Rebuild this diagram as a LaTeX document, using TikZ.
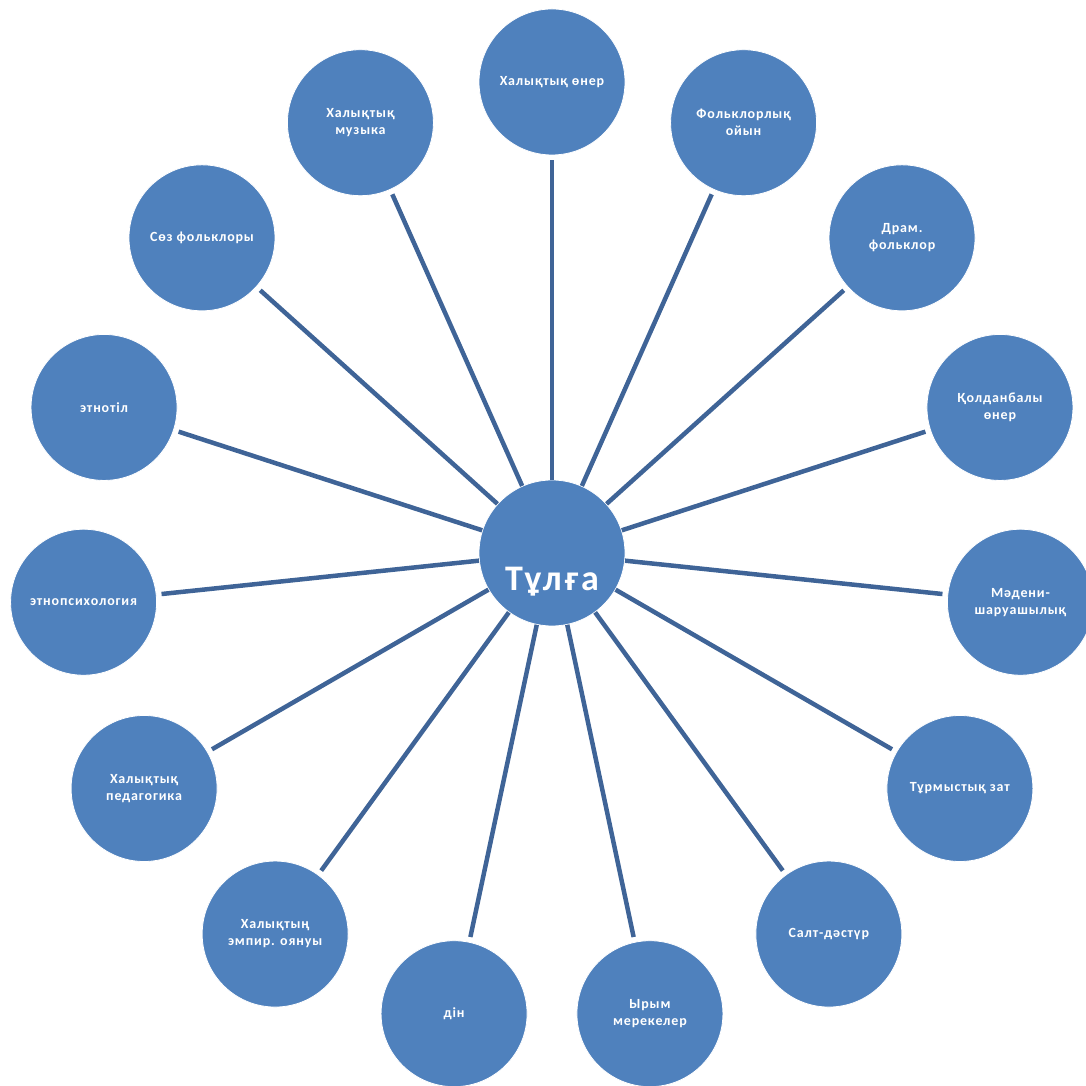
\documentclass[tikz,border=0pt]{standalone}
\usepackage{fontspec}
\setmainfont{Carlito}
\definecolor{topicblue}{HTML}{4F81BD}
\definecolor{spokeblue}{HTML}{3F6497}

\begin{document}
\begin{tikzpicture}[x=1pt, y=1pt,
	every node/.style={font=\bfseries\fontsize{14}{17}\selectfont\addfontfeatures{LetterSpace=6}, text=white},
	topic/.style={circle, fill=topicblue, draw=white, line width=0.8pt, minimum size=146pt, inner sep=0pt, align=center},
	spoke/.style={draw=spokeblue, line width=4.5pt, shorten >=5pt}]
	\useasboundingbox (0,0) rectangle (1086,1086);
	\begin{scope}[shift={(552,533)}]
		\node[topic, label={[font=\bfseries\fontsize{36}{40}\selectfont\addfontfeatures{LetterSpace=8}, yshift=-29pt]center:Тұлға}] (person) at (0,0) {};
		% outer ring, 24 degrees apart
		\node[topic] (art)      at (90:471)   {Халықтық өнер};
		\node[topic] (game)     at (66:471)   {Фольклорлық\\ойын};
		\node[topic] (drama)    at (42:471)   {Драм.\\фольклор};
		\node[topic] (craft)    at (18:471)   {Қолданбалы\\өнер};
		\node[topic] (culture)  at (-6:471)   {Мәдени-\\шаруашылық};
		\node[topic] (things)   at (-30:471)  {Тұрмыстық зат};
		\node[topic] (custom)   at (-54:471)  {Салт-дәстүр};
		\node[topic] (feast)    at (-78:471)  {Ырым\\мерекелер};
		\node[topic] (faith)    at (-102:471) {дін};
		\node[topic] (empiric)  at (-126:471) {Халықтың\\эмпир. оянуы};
		\node[topic] (pedagogy) at (-150:471) {Халықтық\\педагогика};
		\node[topic] (psych)    at (-174:471) {этнопсихология};
		\node[topic] (lang)     at (162:471)  {этнотіл};
		\node[topic] (oral)     at (138:471)  {Сөз фольклоры};
		\node[topic] (music)    at (114:471)  {Халықтық\\музыка};
	\end{scope}
	\draw[spoke] (person) -- (art);
	\draw[spoke] (person) -- (game);
	\draw[spoke] (person) -- (drama);
	\draw[spoke] (person) -- (craft);
	\draw[spoke] (person) -- (culture);
	\draw[spoke] (person) -- (things);
	\draw[spoke] (person) -- (custom);
	\draw[spoke] (person) -- (feast);
	\draw[spoke] (person) -- (faith);
	\draw[spoke] (person) -- (empiric);
	\draw[spoke] (person) -- (pedagogy);
	\draw[spoke] (person) -- (psych);
	\draw[spoke] (person) -- (lang);
	\draw[spoke] (person) -- (oral);
	\draw[spoke] (person) -- (music);
\end{tikzpicture}
\end{document}
